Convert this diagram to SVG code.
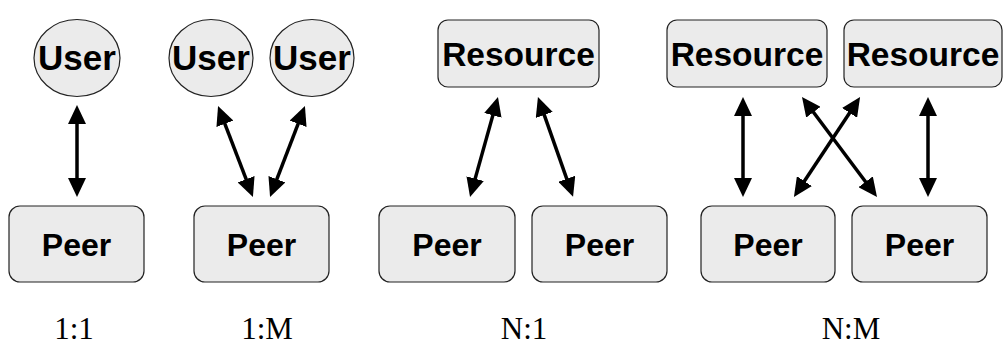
<svg xmlns="http://www.w3.org/2000/svg" width="1003" height="346" viewBox="0 0 1003 346">
<style>
.box{fill:#ebebeb;stroke:#222;stroke-width:1.2}
.nt{font-family:"Liberation Sans",Arial,sans-serif;font-weight:bold;fill:#000;text-anchor:middle}
.peer{font-size:32px}
.user{font-size:35px}
.res{font-size:33.5px}
.lbl{font-family:"Liberation Serif","Times New Roman",serif;font-size:31px;fill:#000;text-anchor:middle}
.arr{stroke:#000;stroke-width:3.5;fill:none;marker-start:url(#ah);marker-end:url(#ah)}
</style>
<defs>
<marker id="ah" markerUnits="userSpaceOnUse" markerWidth="19" markerHeight="18" refX="8" refY="9" orient="auto-start-reverse">
<path d="M0,0 L19,9 L0,18 z" fill="#000"/>
</marker>
</defs>
<g id="user1"><ellipse class="box" cx="77" cy="58" rx="43" ry="38.5"/><text class="nt user" x="77" y="70">User</text></g>
<g id="user2"><ellipse class="box" cx="211" cy="58" rx="42" ry="38.5"/><text class="nt user" x="211" y="70">User</text></g>
<g id="user3"><ellipse class="box" cx="312" cy="58" rx="42" ry="38.5"/><text class="nt user" x="312" y="70">User</text></g>
<g id="peer1"><rect class="box" x="9" y="206" width="135" height="76" rx="11"/><text class="nt peer" x="76.5" y="256">Peer</text></g>
<g id="peer2"><rect class="box" x="194" y="206" width="135" height="76" rx="11"/><text class="nt peer" x="261.5" y="256">Peer</text></g>
<g id="peer3"><rect class="box" x="379" y="206" width="136" height="76" rx="11"/><text class="nt peer" x="447" y="256">Peer</text></g>
<g id="peer4"><rect class="box" x="532" y="206" width="135" height="76" rx="11"/><text class="nt peer" x="599.5" y="256">Peer</text></g>
<g id="peer5"><rect class="box" x="701" y="206" width="134" height="76" rx="11"/><text class="nt peer" x="768" y="256">Peer</text></g>
<g id="peer6"><rect class="box" x="852" y="206" width="135" height="76" rx="11"/><text class="nt peer" x="919.5" y="256">Peer</text></g>
<g id="res1"><rect class="box" x="438" y="20" width="161" height="67" rx="10"/><text class="nt res" x="518.5" y="66">Resource</text></g>
<g id="res2"><rect class="box" x="667" y="20" width="160" height="67" rx="10"/><text class="nt res" x="747" y="66">Resource</text></g>
<g id="res3"><rect class="box" x="844" y="20" width="158" height="67" rx="10"/><text class="nt res" x="923" y="66">Resource</text></g>
<g id="connectors">
<line class="arr" x1="77" y1="116" x2="77" y2="186"/>
<line class="arr" x1="222" y1="116.3" x2="249" y2="186.7"/>
<line class="arr" x1="301" y1="116.3" x2="274" y2="186.7"/>
<line class="arr" x1="495" y1="107.6" x2="473" y2="186.4"/>
<line class="arr" x1="541.6" y1="107.4" x2="569.4" y2="186.3"/>
<line class="arr" x1="743" y1="108" x2="743" y2="186"/>
<line class="arr" x1="808.6" y1="105.8" x2="870.4" y2="188.2"/>
<line class="arr" x1="854" y1="106.2" x2="800" y2="187.8"/>
<line class="arr" x1="928" y1="108" x2="928" y2="186"/>
</g>
<g id="labels">
<text class="lbl" x="74" y="339">1:1</text>
<text class="lbl" x="267" y="339">1:M</text>
<text class="lbl" x="524" y="339">N:1</text>
<text class="lbl" x="851" y="339">N:M</text>
</g>
</svg>
